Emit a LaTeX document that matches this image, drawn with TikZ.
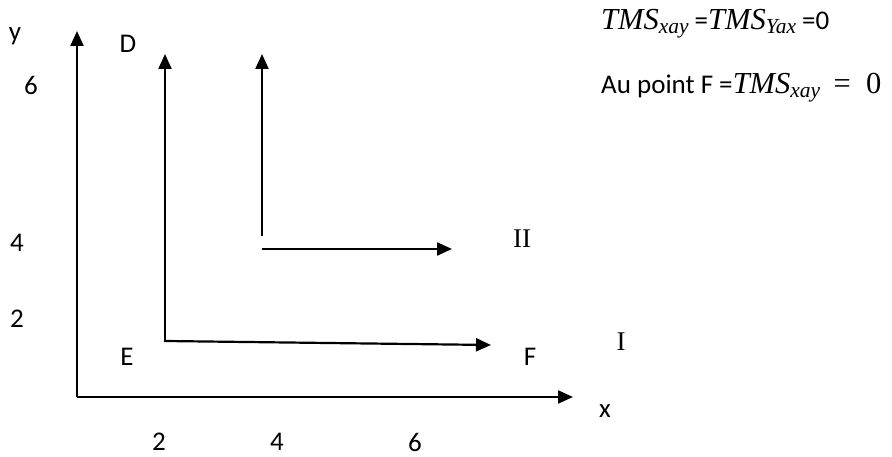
\documentclass[tikz,border=0pt]{standalone}
\usepackage{fontspec}
\setmainfont{Carlito}
\newfontfamily\romfont{Liberation Serif}
\newfontfamily\mifont[Scale=1.13]{Liberation Serif}
\newcommand{\mvar}[2]{{\mifont\itshape #1}\raisebox{-0.3ex}{\mifont\itshape\fontsize{19}{20}\selectfont #2}}
\usetikzlibrary{arrows.meta}
\tikzset{
  arr/.style={line width=2.2pt,-{Triangle[length=15pt,width=13pt]}},
  lab/.style={font=\fontsize{27}{30}\selectfont,inner sep=0pt},
  rom/.style={font=\romfont\fontsize{27}{30}\selectfont,inner sep=0pt},
}
\begin{document}
\begin{tikzpicture}[x=1pt,y=-1pt]
\useasboundingbox (0,0) rectangle (892,457);
% axes
\coordinate (O) at (77,397);
\coordinate (ytip) at (77,31);
\coordinate (xtip) at (573,397);
\draw[arr] (O) -- (ytip);
\draw[arr] (O) -- (xtip);
% arrow I (D-E-F)
\coordinate (cE) at (165,341);
\coordinate (tD) at (165,54);
\coordinate (tF) at (491,345);
\draw[arr,line cap=rect] (cE) -- (tD);
\draw[arr,line cap=rect] (cE) -- (tF);
% arrow II
\coordinate (v2b) at (262,236);
\coordinate (v2t) at (262,54);
\coordinate (h2a) at (262,249);
\coordinate (h2t) at (452,249);
\draw[arr] (v2b) -- (v2t);
\draw[arr] (h2a) -- (h2t);
% labels
\node[lab] (ly) at (15,36) {y};
\node[lab] (lD) at (128,44) {D};
\node[lab] (l6) at (31,85) {6};
\node[lab] (l4) at (17,243) {4};
\node[lab] (l2) at (17,319) {2};
\node[lab] (lE) at (127,357) {E};
\node[lab] (lF) at (530,357) {F};
\node[lab] (lx) at (605,411) {x};
\node[lab] (b2) at (159,442) {2};
\node[lab] (b4) at (277,442) {4};
\node[lab] (b6) at (415,442) {6};
\node[rom] (lI) at (621,342) {I};
\node[rom] (lII) at (522,239) {II};
% equations
\node[lab,anchor=base west] (eq1) at (601,30) {\mvar{TMS}{xay} =\mvar{TMS}{Yax} =0};
\node[lab,anchor=base west] (eq2) at (601,94) {Au point F =\mvar{TMS}{xay}\enspace{\mifont =\enspace 0}};
\end{tikzpicture}
\end{document}
